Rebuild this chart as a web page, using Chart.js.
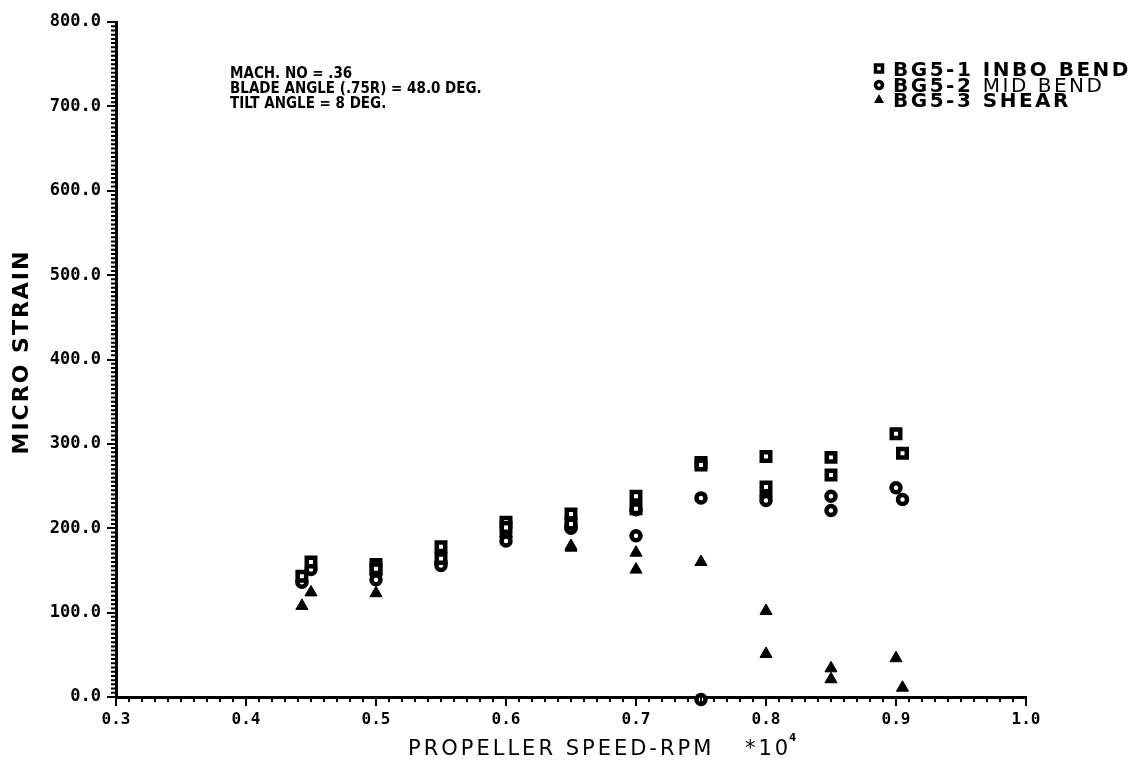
<!DOCTYPE html>
<html>
<head>
<meta charset="utf-8">
<script src="https://cdn.jsdelivr.net/npm/chart.js@4.4.0/dist/chart.umd.min.js"></script>
<style>
  html, body { margin: 0; padding: 0; background: #fff; }
  #wrap { width: 1141px; height: 778px; }
</style>
</head>
<body>
<div id="wrap"><canvas id="chart" width="1141" height="778"></canvas></div>
<script>
// propeller speed (x 10^4 rpm) and micro strain

// BG5-1 inboard bending - squares
const inboSpeed  = [0.443, 0.45, 0.5, 0.5, 0.55, 0.55, 0.6, 0.6, 0.65, 0.65, 0.7, 0.7, 0.75, 0.75, 0.8, 0.8, 0.85, 0.85, 0.9, 0.905];
const inboStrain = [143, 160, 157, 152, 178, 164, 207, 201, 217, 205, 238, 223, 278, 275, 285, 249, 284, 263, 312, 289];

// BG5-2 mid bending - circles
const midSpeed  = [0.443, 0.45, 0.5, 0.5, 0.55, 0.55, 0.6, 0.6, 0.65, 0.65, 0.7, 0.7, 0.75, 0.75, 0.8, 0.8, 0.85, 0.85, 0.9, 0.905];
const midStrain = [136, 151, 146, 139, 160, 156, 190, 185, 203, 200, 222, 191, 236, -3, 238, 233, 238, 221, 248, 234];

// BG5-3 shear - triangles
const shearSpeed  = [0.443, 0.45, 0.5, 0.65, 0.65, 0.7, 0.7, 0.75, 0.8, 0.8, 0.85, 0.85, 0.9, 0.905];
const shearStrain = [108, 124, 123, 179, 177, 171, 151, 160, 102, 51, 34, 21, 46, 11];

const speedTicks  = [0.3, 0.4, 0.5, 0.6, 0.7, 0.8, 0.9, 1.0];
const strainTicks = [0, 100, 200, 300, 400, 500, 600, 700, 800];

const seriesNames = ['BG5-1 INBO BEND', 'BG5-2 MID BEND', 'BG5-3 SHEAR'];
const noteLines = ['MACH. NO = .36', 'BLADE ANGLE (.75R) = 48.0 DEG.', 'TILT ANGLE = 8 DEG.'];

const toPoints = (xs, ys) => xs.map((v, i) => ({ x: v, y: ys[i] }));

// minor ticks, notes, legend and axis titles
const plotText = {
  id: 'plotText',
  afterDraw(chart) {
    const ctx = chart.ctx;
    const a = chart.chartArea;
    const x = chart.scales.x, y = chart.scales.y;
    ctx.save();
    ctx.strokeStyle = '#000';
    ctx.lineWidth = 2;
    ctx.beginPath();
    for (let i = 31; i < 100; i++) {
      if (i % 10 === 0) continue;
      const px = x.getPixelForValue(i / 100);
      ctx.moveTo(px, a.bottom);
      ctx.lineTo(px, a.bottom + 5);
    }
    for (let v = 5; v < 800; v += 5) {
      if (v % 100 === 0) continue;
      const py = y.getPixelForValue(v);
      ctx.moveTo(a.left, py);
      ctx.lineTo(a.left - 5, py);
    }
    ctx.stroke();

    ctx.fillStyle = '#000';
    ctx.textBaseline = 'alphabetic';
    ctx.textAlign = 'left';

    // notes top left
    ctx.font = 'bold 15px "DejaVu Sans Condensed", "DejaVu Sans"';
    noteLines.forEach((t, i) => ctx.fillText(t, 230, 78 + i * 15));

    // legend top right
    const rows = [76, 92, 107];
    ctx.letterSpacing = '2.5px';
    ctx.font = 'bold 20px "DejaVu Sans"';
    ctx.fillText(seriesNames[0], 893, rows[0]);
    ctx.fillText('BG5-2 ', 893, rows[1]);
    const w2 = ctx.measureText('BG5-2 ').width;
    ctx.font = '20px "DejaVu Sans"';
    ctx.fillText('MID BEND', 893 + w2, rows[1]);
    ctx.font = 'bold 20px "DejaVu Sans"';
    ctx.fillText(seriesNames[2], 893, rows[2]);
    ctx.letterSpacing = '0px';

    const mx = 879;
    ctx.lineWidth = 3.5;
    ctx.strokeRect(mx - 3.5, rows[0] - 11, 7, 7);
    ctx.beginPath();
    ctx.arc(mx, rows[1] - 7, 3.5, 0, Math.PI * 2);
    ctx.stroke();
    ctx.beginPath();
    ctx.moveTo(mx, rows[2] - 13);
    ctx.lineTo(mx + 5, rows[2] - 4);
    ctx.lineTo(mx - 5, rows[2] - 4);
    ctx.closePath();
    ctx.fill();

    // axis titles
    ctx.letterSpacing = '3px';
    ctx.font = '21px "DejaVu Sans"';
    ctx.fillText('PROPELLER SPEED-RPM', 408, 755);
    ctx.fillText('*10', 745, 755);
    const w10 = ctx.measureText('*10').width;
    ctx.font = 'bold 10px "DejaVu Sans"';
    ctx.fillText('4', 745 + w10 - 2, 741);

    ctx.translate(28, 352);
    ctx.rotate(-Math.PI / 2);
    ctx.textAlign = 'center';
    ctx.letterSpacing = '2px';
    ctx.font = 'bold 22px "DejaVu Sans"';
    ctx.fillText('MICRO STRAIN', 0, 0);
    ctx.restore();
  }
};

new Chart(document.getElementById('chart'), {
  type: 'scatter',
  data: {
    datasets: [
      {
        label: seriesNames[0],
        data: toPoints(inboSpeed, inboStrain),
        pointStyle: 'rect',
        pointRadius: 6,
        pointBorderWidth: 4.5,
        pointBackgroundColor: '#fff',
        pointBorderColor: '#000'
      },
      {
        label: seriesNames[1],
        data: toPoints(midSpeed, midStrain),
        pointStyle: 'circle',
        pointRadius: 4.5,
        pointBorderWidth: 4.5,
        pointBackgroundColor: '#fff',
        pointBorderColor: '#000'
      },
      {
        label: seriesNames[2],
        data: toPoints(shearSpeed, shearStrain),
        pointStyle: 'triangle',
        pointRadius: 7,
        pointBorderWidth: 1,
        pointBackgroundColor: '#000',
        pointBorderColor: '#000'
      }
    ]
  },
  options: {
    responsive: false,
    animation: false,
    clip: false,
    layout: { autoPadding: false, padding: { top: 22, right: 115, left: 0, bottom: 0 } },
    plugins: {
      legend: { display: false },
      tooltip: { enabled: false }
    },
    scales: {
      x: {
        type: 'linear',
        min: 0.3,
        max: 1.0,
        afterBuildTicks: s => { s.ticks = speedTicks.map(v => ({ value: v })); },
        afterFit: s => { s.height = 81; },
        ticks: {
          color: '#000',
          padding: 4,
          autoSkip: false,
          maxRotation: 0,
          font: { family: '"DejaVu Sans Mono"', weight: 'bold', size: 16 },
          callback: v => Number(v).toFixed(1)
        },
        grid: { drawOnChartArea: false, color: '#000', lineWidth: 2, tickLength: 9 },
        border: { color: '#000', width: 3 }
      },
      y: {
        type: 'linear',
        min: 0,
        max: 800,
        afterBuildTicks: s => { s.ticks = strainTicks.map(v => ({ value: v })); },
        afterFit: s => { s.width = 116; },
        ticks: {
          color: '#000',
          padding: 6,
          autoSkip: false,
          font: { family: '"DejaVu Sans Mono"', weight: 'bold', size: 17 },
          callback: v => Number(v).toFixed(1)
        },
        grid: { drawOnChartArea: false, color: '#000', lineWidth: 2, tickLength: 9 },
        border: { color: '#000', width: 3 }
      }
    }
  },
  plugins: [plotText]
});
</script>
</body>
</html>
